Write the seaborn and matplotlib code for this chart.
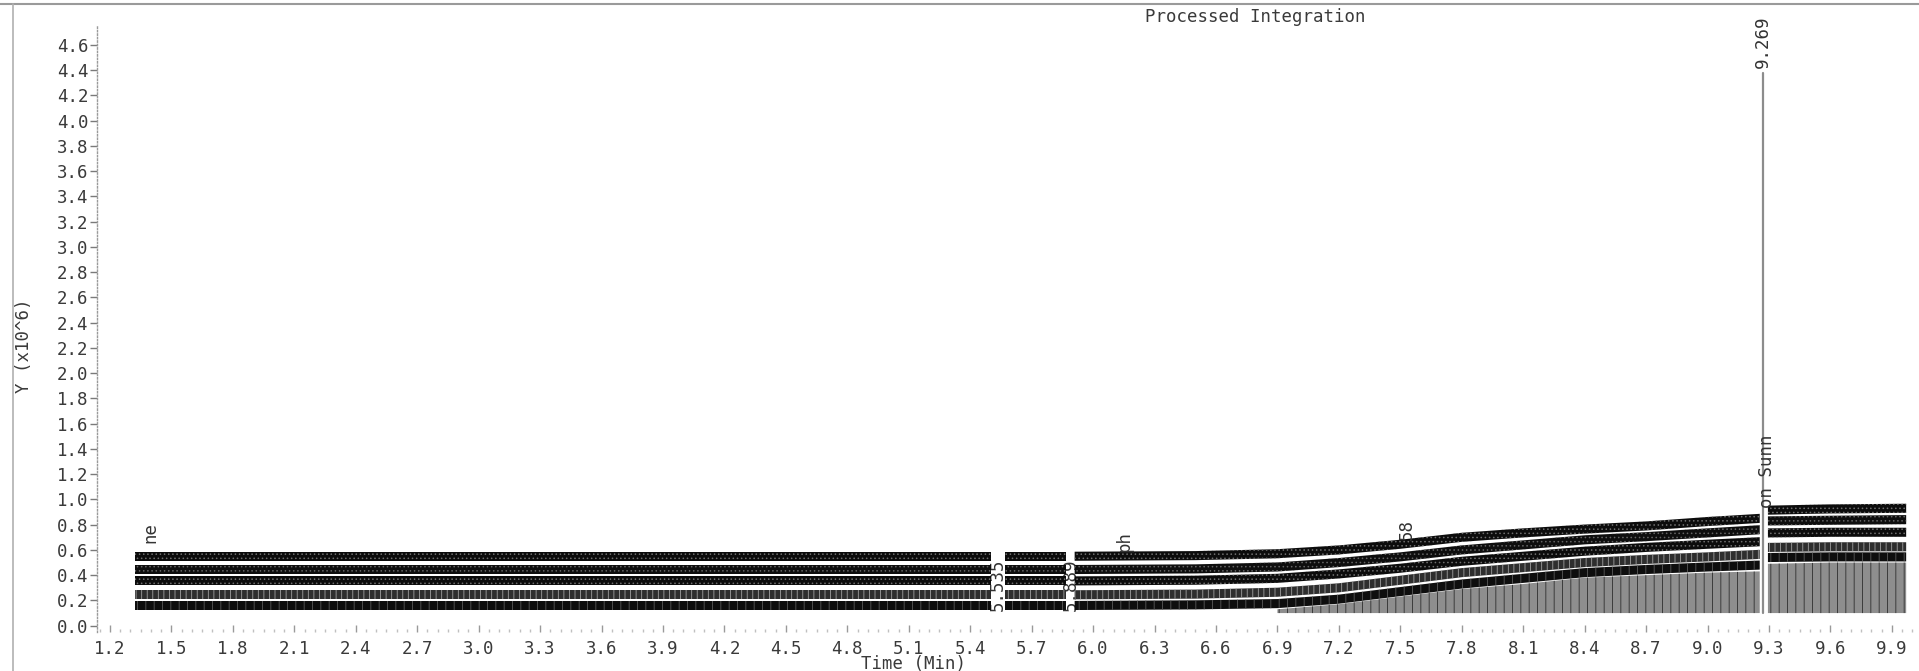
import numpy as np
import pandas as pd
import matplotlib
matplotlib.use("Agg")
import matplotlib.pyplot as plt
import seaborn as sns
from matplotlib.lines import Line2D
from matplotlib.ticker import MultipleLocator, FormatStrFormatter

nan = np.nan

# Retention time grid of the overlaid ion traces (min); NaN rows mark breaks
time_min = [1.32, 2.0, 3.0, 4.0, 5.0, 5.50, 5.535, 5.57, 5.87, 5.89, 5.91,
            6.5, 6.9, 7.2, 7.5, 7.8, 8.1, 8.4, 8.7, 9.0, 9.255, 9.269, 9.295,
            9.6, 9.97]

# Trace levels (x10^6), top to bottom
trace_1 = [0.55, 0.55, 0.55, 0.55, 0.55, 0.55, nan, 0.55, 0.55, nan, 0.55,
           0.555, 0.57, 0.60, 0.645, 0.70, 0.735, 0.765, 0.79, 0.825, 0.85, nan,
           0.915, 0.925, 0.93]
trace_2 = [0.445, 0.445, 0.445, 0.445, 0.445, 0.445, nan, 0.445, 0.445, nan, 0.445,
           0.45, 0.465, 0.50, 0.545, 0.60, 0.64, 0.68, 0.705, 0.735, 0.76, nan,
           0.83, 0.835, 0.84]
trace_3 = [0.355, 0.355, 0.355, 0.355, 0.355, 0.355, nan, 0.355, 0.355, nan, 0.355,
           0.36, 0.375, 0.41, 0.455, 0.51, 0.55, 0.59, 0.62, 0.645, 0.665, nan,
           0.735, 0.74, 0.74]
trace_4 = [0.245, 0.245, 0.245, 0.245, 0.245, 0.245, nan, 0.245, 0.245, nan, 0.245,
           0.25, 0.265, 0.30, 0.36, 0.42, 0.46, 0.50, 0.525, 0.545, 0.565, nan,
           0.62, 0.625, 0.625]
trace_5 = [0.16, 0.16, 0.16, 0.16, 0.16, 0.16, nan, 0.16, 0.16, nan, 0.16,
           0.165, 0.175, 0.21, 0.27, 0.33, 0.375, 0.42, 0.445, 0.465, 0.48, nan,
           0.54, 0.545, 0.545]

# Integrated area under the lowest trace
integ_top = [nan, nan, nan, nan, nan, nan, nan, nan, nan, nan, nan,
             nan, 0.13, 0.17, 0.23, 0.29, 0.33, 0.38, 0.40, 0.42, 0.43, nan,
             0.49, 0.50, 0.50]
integ_base = 0.1

# Main peak
peak_time = 9.269
peak_height = 4.38

# Peak annotations: (time, bottom y, text)
labels_open = [(1.395, 0.655, "ne"), (6.155, 0.585, "ph"), (7.53, 0.675, "58"),
               (9.292, 0.93, "on Sunn"), (9.269, 4.42, "9.269")]
labels_gap = [(5.535, 0.12, "5.535"), (5.89, 0.12, "5.889")]

x_ticks = [round(1.2 + 0.3 * i, 1) for i in range(30)]
y_ticks = [round(0.2 * i, 1) for i in range(24)]

sns.set_theme(style="white")
plt.rcParams["font.family"] = ["DejaVu Sans Mono", "DejaVu Sans"]
plt.rcParams["hatch.linewidth"] = 0.6

fig = plt.figure(figsize=(19.19, 6.71), dpi=100)
ax = fig.add_axes([97 / 1919, 1 - 632 / 671, (1916 - 97) / 1919, (632 - 26) / 671])

t = np.array(time_min)
half = 0.036
band_style = [
    dict(facecolor="#0c0c0c", edgecolor="#6e6e6e", hatch="...."),
    dict(facecolor="#0e0e0e", edgecolor="#646464", hatch="...."),
    dict(facecolor="#0c0c0c", edgecolor="#6e6e6e", hatch="...."),
    dict(facecolor="#2e2e2e", edgecolor="#a0a0a0", hatch="|||"),
    dict(facecolor="#0e0e0e", edgecolor="#5a5a5a", hatch="||"),
]

# integration area
top = np.array(integ_top)
ax.fill_between(t, integ_base, top, facecolor="#8e8e8e", edgecolor="#2e2e2e",
                hatch="||", linewidth=0, zorder=1)

for x, y, s in labels_gap:
    ax.text(x, y, s, rotation=90, ha="center", va="bottom", fontsize=12.5,
            color="#333333", zorder=1.5)

for trace, st in zip([trace_1, trace_2, trace_3, trace_4, trace_5], band_style):
    y = np.array(trace)
    ax.fill_between(t, y - half, y + half, linewidth=0, zorder=2, **st)

# peak trace
peak_df = pd.DataFrame({"time": [peak_time, peak_time], "y": [integ_base, peak_height]})
sns.lineplot(data=peak_df, x="time", y="y", ax=ax, color="#8c8c8c", linewidth=1.6,
             zorder=2.5, estimator=None, sort=False)

for x, y, s in labels_open:
    ax.text(x, y, s, rotation=90, ha="center", va="bottom", fontsize=12.5,
            color="#333333", zorder=3, clip_on=False)

ax.set_xlim(1.1365, 10.018)
ax.set_ylim(-0.05, 4.75)
ax.set_xticks(x_ticks)
ax.xaxis.set_major_formatter(FormatStrFormatter("%.1f"))
ax.yaxis.set_major_formatter(FormatStrFormatter("%.1f"))
ax.xaxis.set_minor_locator(MultipleLocator(0.05))
ax.set_yticks([v for v in y_ticks if v <= 4.6])

for side in ["top", "right", "bottom"]:
    ax.spines[side].set_visible(False)
ax.spines["left"].set_linestyle((0, (1, 1.5)))
ax.spines["left"].set_color("#9a9a9a")
ax.spines["left"].set_linewidth(1.0)

ax.tick_params(axis="x", which="major", direction="in", length=5, width=1,
               color="#9a9a9a", pad=6, labelsize=12.5, labelcolor="#3a3a3a", bottom=True)
ax.tick_params(axis="x", which="minor", direction="in", length=2, width=1,
               color="#c0c0c0", bottom=True)
ax.tick_params(axis="y", which="major", direction="out", length=5, width=1,
               color="#7a7a7a", pad=1, labelsize=12.5, labelcolor="#3a3a3a", left=True)
ax.set_xlabel("")
ax.set_ylabel("")
ax.grid(False)

fig.text(24 / 1919, 1 - 346 / 671, "Y (x10^6)", rotation=90, ha="center", va="center",
         fontsize=12.5, color="#3a3a3a")
fig.text(913 / 1919, 7 / 671, "Time (Min)", ha="center", va="center",
         fontsize=12.5, color="#3a3a3a")
fig.text(1255 / 1919, 1 - 17 / 671, "Processed Integration", ha="center", va="center",
         fontsize=12.5, color="#3a3a3a")

# window frame
fig.add_artist(Line2D([0, 1], [1 - 4 / 671] * 2, transform=fig.transFigure,
                      color="#9a9a9a", linewidth=1.5))
fig.add_artist(Line2D([13 / 1919] * 2, [0, 1 - 4 / 671], transform=fig.transFigure,
                      color="#b0b0b0", linewidth=1.2))

fig.savefig("out.png", dpi=100, facecolor="white")
